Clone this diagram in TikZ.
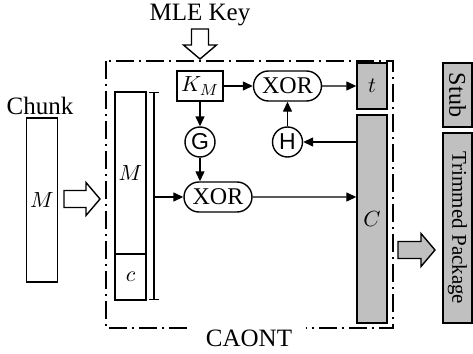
\documentclass[tikz,border=0pt]{standalone}
\usepackage{fontspec}
\setmainfont{Liberation Serif}
\setsansfont{Liberation Sans}
\definecolor{caGray}{HTML}{C0C0C0}
\usetikzlibrary{positioning,shapes.misc,arrows.meta}

% hollow block arrow pointing along +x, #1 = total length
\tikzset{pics/fatarrow/.style={code={
  \path[draw,pic actions] (-#1/2,-8.5) -- (#1/2-14,-8.5) -- (#1/2-14,-16.5) -- (#1/2,0)
    -- (#1/2-14,16.5) -- (#1/2-14,8.5) -- (-#1/2,8.5) -- cycle;}}}

\begin{document}
\begin{tikzpicture}[x=0.5pt,y=-0.5pt,line width=0.7pt,
                    >={Triangle[length=5pt,width=4.5pt]},
                    lbl/.style={font=\fontsize{12.5}{15}\selectfont},
                    blk/.style={draw,inner sep=0pt,font=\fontsize{11}{13}\selectfont},
                    shade/.style={blk,fill=caGray},
                    xorbox/.style={draw,rounded rectangle,minimum width=34pt,
                                   minimum height=15pt,inner sep=0pt,
                                   font=\fontsize{12}{14}\selectfont},
                    hashfn/.style={draw,circle,minimum size=15pt,inner sep=0pt,
                                   font=\sffamily\fontsize{11.5}{13}\selectfont},
                    caontline/.style={dash pattern=on 9pt off 2.5pt on 1pt off 2.5pt}]
  \useasboundingbox (0,0) rectangle (473,354);
  % CAONT frame, label sits on its bottom edge
  \draw[caontline] (106,61) rectangle (393,328);
  \node[lbl,fill=white,inner xsep=7pt,inner ysep=2pt] (caont) at (249,338) {CAONT};

  \node[lbl] (mle) at (200,15) {MLE Key};
  \pic[rotate=-90] (mlearr) at (200,44) {fatarrow=30};

  \node[lbl] (chunklbl) at (40,106) {Chunk};
  \node[blk,minimum width=15.5pt,minimum height=82pt] (chunk) at (42,200) {$M$};
  \pic (chunkarr) at (82,199) {fatarrow=36};

  \node[blk,minimum width=15.5pt,minimum height=81pt] (mpart) at (130.5,173) {$M$};
  \node[blk,minimum width=15.5pt,minimum height=23pt,below=-0.7pt of mpart] (cpart) {$c$};
  \coordinate (btop) at (154,92);
  \coordinate (bbot) at (154,300);
  \coordinate (bmid) at (154,197);
  \draw[{Bar[width=5pt]}-{Bar[width=5pt]}] (btop) -- (bbot);

  \node[blk,minimum width=23pt,minimum height=15pt] (km) at (200,86) {$K_M$};
  \node[xorbox] (xortop) at (287.5,86) {XOR};
  \node[shade,minimum width=15pt,minimum height=23pt] (tag) at (372,86) {$t$};
  \node[shade,minimum width=15pt,minimum height=104pt] (ctext) at (372,219) {$C$};
  \node[hashfn] (gfun) at (200,142) {G};
  \node[hashfn] (hfun) at (287.5,142) {H};
  \node[xorbox] (xorlow) at (218,197) {XOR};

  \draw[->] (km) -- (xortop);
  \draw[->] (xortop) -- (tag);
  \draw[->] (km) -- (gfun);
  \draw[->] (gfun) -- (gfun |- xorlow.north);
  \draw[->] (ctext.west |- hfun) -- (hfun);
  \draw[->] (hfun) -- (xortop);
  \draw[->] (bmid) -- (xorlow);
  \draw[->] (xorlow) -- (xorlow -| ctext.west);

  % output: stub and trimmed package
  \pic[fill=caGray] (outarr) at (416.5,250) {fatarrow=37};
  \node[shade,rotate=-90,minimum width=32pt,minimum height=14.5pt,
        font=\fontsize{12}{14}\selectfont] (stub) at (457.5,95) {Stub};
  \node[shade,rotate=-90,minimum width=95pt,minimum height=14.5pt,
        font=\fontsize{10.5}{12}\selectfont] (trim) at (457.5,228) {Trimmed Package};
\end{tikzpicture}
\end{document}
